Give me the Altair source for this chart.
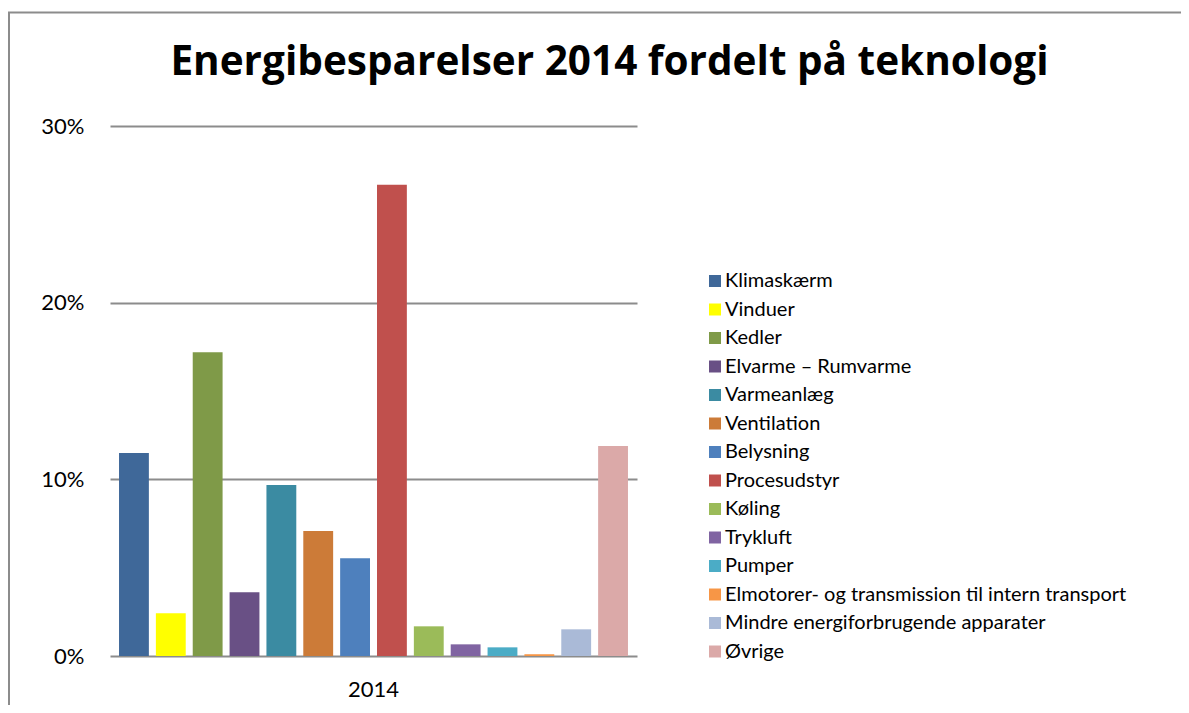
import altair as alt
import pandas as pd

technologies = [
    "Klimaskærm", "Vinduer", "Kedler", "Elvarme – Rumvarme", "Varmeanlæg",
    "Ventilation", "Belysning", "Procesudstyr", "Køling", "Trykluft",
    "Pumper", "Elmotorer- og transmission til intern transport",
    "Mindre energiforbrugende apparater", "Øvrige",
]
shares = [0.1149, 0.0242, 0.1720, 0.0361, 0.0968, 0.0707, 0.0554, 0.2668,
          0.0168, 0.0066, 0.0049, 0.0010, 0.0151, 0.1189]
colors = ["#3F6899", "#FFFF00", "#7F9A48", "#695085", "#3B8BA2", "#CC7B38",
          "#4E80BD", "#C0504D", "#9BBB59", "#8064A2", "#4BACC6", "#F79646",
          "#AABAD7", "#DBA9A8"]
year = ["2014"]

df = pd.DataFrame({"year": year * len(technologies), "tech": technologies, "share": shares})

FONT = "Lato"

bars = alt.Chart(df).mark_bar().encode(
    x=alt.X("year:N", title=None,
            scale=alt.Scale(paddingInner=0, paddingOuter=0.0107),
            axis=alt.Axis(labelAngle=0, labelFontSize=22, labelFont=FONT, labelColor="#000000",
                          ticks=False, domain=False, labelPadding=23)),
    xOffset=alt.XOffset("tech:N", sort=technologies,
                        scale=alt.Scale(paddingInner=0.19, paddingOuter=0.095)),
    y=alt.Y("share:Q", title=None,
            scale=alt.Scale(domain=[0, 0.3], nice=False),
            axis=alt.Axis(format=".0%", values=[0, 0.1, 0.2, 0.3], labelFontSize=22,
                          labelFont=FONT, labelColor="#000000", ticks=False, tickSize=0,
                          domain=False, labelPadding=26, grid=True, gridColor="#8C8C8C",
                          gridWidth=2)),
    color=alt.Color("tech:N", sort=technologies,
                    scale=alt.Scale(domain=technologies, range=colors),
                    legend=alt.Legend(title=None, orient="none", legendX=595, legendY=145,
                                      symbolType="square", symbolSize=144, symbolStrokeWidth=0,
                                      labelFontSize=20, labelFont=FONT, labelColor="#000000",
                                      rowPadding=8.5, labelOffset=0, labelLimit=700,
                                      padding=0)),
)

border_top = alt.Chart(pd.DataFrame({"d": [0]})).mark_rule(color="#8C8C8C", strokeWidth=2).encode(
    x=alt.value(-102), x2=alt.value(1080), y=alt.value(-113.5))
border_left = alt.Chart(pd.DataFrame({"d": [0]})).mark_rule(color="#8C8C8C", strokeWidth=2).encode(
    x=alt.value(-101), y=alt.value(-114), y2=alt.value(600))

chart = alt.layer(bars, border_top, border_left).properties(
    width=527, height=530,
    background="#FFFFFF",
    title=alt.TitleParams("Energibesparelser 2014 fordelt på teknologi", font="Open Sans",
                          fontSize=40.5, fontWeight="bold", color="#000000", anchor="middle",
                          frame="group", dx=236, offset=-104, baseline="alphabetic"),
    padding={"left": 102, "top": 118, "right": 544, "bottom": 49},
    autosize=alt.AutoSizeParams(type="none"),
).configure_view(strokeWidth=0)

chart.save("out.html", embed_options={"renderer": "svg", "actions": False})
